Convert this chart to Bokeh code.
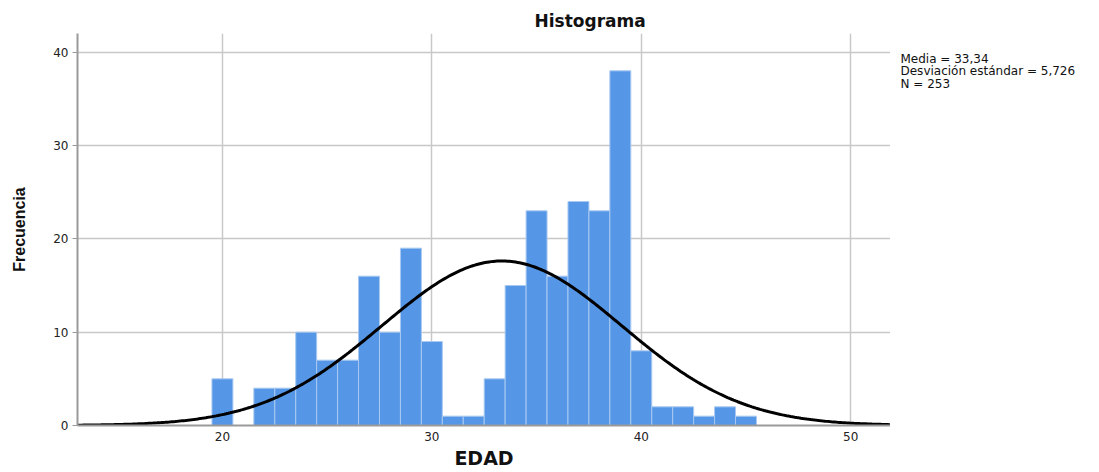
import numpy as np
from bokeh.plotting import figure
from bokeh.models import Range1d, FixedTicker, Label
from bokeh.layouts import row
from bokeh.embed import file_html
from bokeh.resources import INLINE

# Data (bin centres = integer ages, width 1)
edad = [20, 21, 22, 23, 24, 25, 26, 27, 28, 29, 30, 31, 32, 33, 34, 35, 36,
        37, 38, 39, 40, 41, 42, 43, 44, 45]
frecuencia = [5, 0, 4, 4, 10, 7, 7, 16, 10, 19, 9, 1, 1, 5, 15, 23, 16,
              24, 23, 38, 8, 2, 2, 1, 2, 1]
media = 33.34
desv = 5.726
n_total = 253
bin_width = 1.0
stats_lines = ["Media = 33,34", "Desviación estándar = 5,726", "N = 253"]

x_ticks = [20, 30, 40, 50]
y_ticks = [0, 10, 20, 30, 40]

x0, x1 = 13.08, 51.9
y0, y1 = 0, 42.0

font = "DejaVu Sans"
H = 472
FRAME_BOTTOM = 425

p = figure(width=890, height=H, output_backend="svg", toolbar_location=None,
           x_range=Range1d(x0, x1), y_range=Range1d(y0, y1))
p.min_border_left = 77
p.min_border_right = 0
p.min_border_top = 33
p.min_border_bottom = H - FRAME_BOTTOM
p.outline_line_color = None
p.background_fill_color = "white"

p.title.text = "Histograma"
p.title.align = "left"
p.title.offset = 457
p.title.text_font = font
p.title.text_font_size = "17px"
p.title.text_font_style = "bold"
p.title.text_color = "#111111"
p.title.standoff = 5

left = [e - bin_width / 2 for e in edad]
right = [e + bin_width / 2 for e in edad]
p.quad(left=left, right=right, bottom=0, top=frecuencia,
       fill_color="#5596E6", line_color="#a9c9f1", line_width=1)

xs = np.linspace(x0, x1, 400)
ys = n_total * bin_width / (desv * np.sqrt(2 * np.pi)) * np.exp(-0.5 * ((xs - media) / desv) ** 2)
p.line(xs, ys, line_color="black", line_width=3)

for ax in (p.xaxis, p.yaxis):
    ax.axis_line_color = "#9a9a9a"
    ax.axis_line_width = 2
    ax.major_label_text_font = font
    ax.major_label_text_font_size = "12px"
    ax.major_label_text_color = "#222222"
    ax.minor_tick_line_color = None
p.xaxis.ticker = FixedTicker(ticks=x_ticks)
p.yaxis.ticker = FixedTicker(ticks=y_ticks)
p.xaxis.major_tick_line_color = None
p.xaxis.major_tick_out = 0
p.xaxis.major_tick_in = 0
p.xaxis.major_label_standoff = 6
p.yaxis.major_tick_line_color = "#9a9a9a"
p.yaxis.major_tick_out = 5
p.yaxis.major_tick_in = 0
p.yaxis.major_label_standoff = 4

p.xaxis.axis_label = "EDAD"
p.xaxis.axis_label_text_font = font
p.xaxis.axis_label_text_font_size = "19px"
p.xaxis.axis_label_text_font_style = "bold"
p.xaxis.axis_label_text_color = "#111111"
p.xaxis.axis_label_standoff = 3
p.yaxis.axis_label = "Frecuencia"
p.yaxis.axis_label_text_font = "Liberation Sans"
p.yaxis.axis_label_text_font_size = "16px"
p.yaxis.axis_label_text_font_style = "bold"
p.yaxis.axis_label_text_color = "#111111"
p.yaxis.axis_label_standoff = 22

p.xgrid.ticker = FixedTicker(ticks=x_ticks)
p.ygrid.ticker = FixedTicker(ticks=y_ticks)
p.xgrid.grid_line_color = "#c8c8c8"
p.ygrid.grid_line_color = "#c8c8c8"
p.xgrid.grid_line_width = 1.5
p.ygrid.grid_line_width = 1.5

# side panel with the summary statistics (its frame is aligned with p's frame)
W2 = 200
p2 = figure(width=W2, height=H, output_backend="svg", toolbar_location=None,
            x_range=Range1d(0, W2), y_range=Range1d(0, H),
            x_axis_location=None, y_axis_location=None)
p2.min_border_left = 0
p2.min_border_right = 0
p2.min_border_top = 33
p2.min_border_bottom = H - FRAME_BOTTOM
p2.outline_line_color = None
p2.grid.visible = False
stats = Label(x=10, y=FRAME_BOTTOM - 51, x_units="screen", y_units="screen",
              text="\n".join(stats_lines),
              text_font=font, text_font_size="12px", text_align="left",
              text_baseline="top", text_color="#111111", text_line_height=0.92)
p2.add_layout(stats)

layout = row(p, p2, spacing=0)
open("out.html", "w").write(file_html(layout, INLINE))
